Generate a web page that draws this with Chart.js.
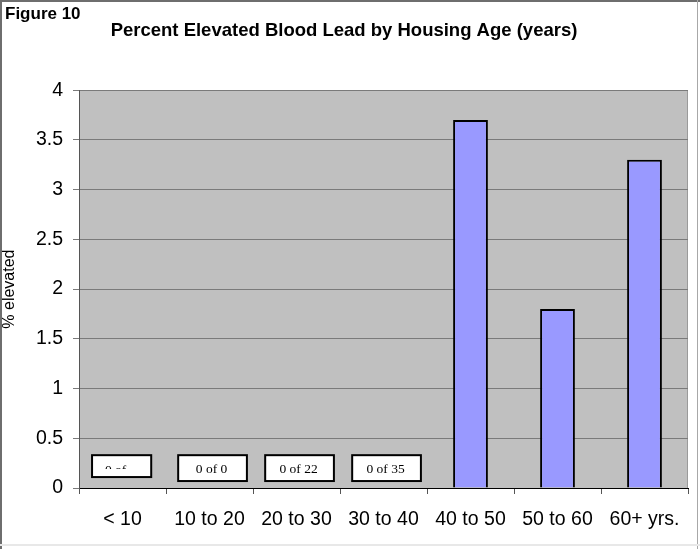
<!DOCTYPE html>
<html>
<head>
<meta charset="utf-8">
<script src="https://cdn.jsdelivr.net/npm/chart.js@4.4.0/dist/chart.umd.min.js"></script>
<style>
html,body{margin:0;padding:0;background:#fff;}
#wrap{width:700px;height:549px;position:relative;}
</style>
</head>
<body>
<div id="wrap"><canvas id="c" width="700" height="549"></canvas></div>
<script>
const categories = ["< 10", "10 to 20", "20 to 30", "30 to 40", "40 to 50", "50 to 60", "60+ yrs."];
const percentElevated = [0, 0, 0, 0, 3.7, 1.8, 3.3];
const boxLabels = ["0 of", "0 of 0", "0 of 22", "0 of 35"];
const yTicks = [0, 0.5, 1, 1.5, 2, 2.5, 3, 3.5, 4];

const SANS = "'Liberation Sans', Arial, sans-serif";
const SERIF = "'Liberation Serif', 'Times New Roman', serif";

const framePlugin = {
  id: 'frame',
  beforeDraw(chart) {
    const ctx = chart.ctx;
    const a = chart.chartArea;
    ctx.save();
    ctx.fillStyle = '#ffffff';
    ctx.fillRect(0, 0, chart.width, chart.height);
    // outer frame
    ctx.fillStyle = '#6e6e6e';
    ctx.fillRect(0, 0, chart.width, 2);
    ctx.fillRect(0, 0, 2, chart.height);
    ctx.fillStyle = '#a8a8a8';
    ctx.fillRect(chart.width - 3, 0, 1, chart.height);
    ctx.fillStyle = '#e8e8e8';
    ctx.fillRect(0, chart.height - 5, chart.width, 2);
    // plot background
    ctx.fillStyle = '#c0c0c0';
    ctx.fillRect(a.left, a.top, a.right - a.left, a.bottom - a.top);
    ctx.fillStyle = '#9a9a9a';
    ctx.fillRect(a.right - 1, a.top, 1, a.bottom - a.top);
    // figure label
    ctx.fillStyle = '#000';
    ctx.font = 'bold 17px ' + SANS;
    ctx.textBaseline = 'top';
    ctx.textAlign = 'left';
    ctx.fillText('Figure 10', 5, 6);
    ctx.restore();
  }
};

const boxPlugin = {
  id: 'countBoxes',
  afterDatasetsDraw(chart) {
    const ctx = chart.ctx;
    const xs = chart.scales.x, ys = chart.scales.y;
    const step = xs.getPixelForValue(1) - xs.getPixelForValue(0);
    ctx.save();
    boxLabels.forEach((lab, i) => {
      const cx = xs.getPixelForValue(i);
      let x0, x1, yTop, yBot;
      if (i === 0) {
        x0 = cx - 0.35 * step; x1 = cx + 0.33 * step;
        yTop = ys.getPixelForValue(0.33); yBot = ys.getPixelForValue(0.11);
      } else {
        x0 = cx - 0.36 * step; x1 = cx + 0.43 * step;
        yTop = ys.getPixelForValue(0.33); yBot = ys.getPixelForValue(0.07);
      }
      ctx.fillStyle = '#ffffff';
      ctx.fillRect(x0, yTop, x1 - x0, yBot - yTop);
      ctx.strokeStyle = '#000';
      ctx.lineWidth = 2;
      ctx.strokeRect(x0, yTop, x1 - x0, yBot - yTop);
      ctx.fillStyle = '#000';
      ctx.font = '13.5px ' + SERIF;
      ctx.textAlign = 'center';
      ctx.textBaseline = 'middle';
      if (i === 0) {
        ctx.save();
        ctx.beginPath();
        ctx.rect(x0, yTop, x1 - x0, ys.getPixelForValue(0.19) - yTop);
        ctx.clip();
        ctx.fillText(lab, (x0 + x1) / 2 - 6, ys.getPixelForValue(0.18));
        ctx.restore();
      } else {
        ctx.fillText(lab, (x0 + x1) / 2 - 1, (yTop + yBot) / 2 + 1);
      }
    });
    ctx.restore();
  }
};

new Chart(document.getElementById('c'), {
  type: 'bar',
  data: {
    labels: categories,
    datasets: [{
      data: percentElevated,
      backgroundColor: '#9999ff',
      borderColor: '#000000',
      borderWidth: 2,
      categoryPercentage: 1.0,
      barPercentage: 0.4
    }]
  },
  options: {
    responsive: false,
    animation: false,
    devicePixelRatio: 1,
    layout: { padding: { left: 0, right: 12, top: 0, bottom: 0 } },
    plugins: {
      legend: { display: false },
      tooltip: { enabled: false },
      title: {
        display: true,
        text: 'Percent Elevated Blood Lead by Housing Age (years)',
        color: '#000',
        font: { family: SANS, size: 18.5, weight: 'bold' },
        padding: { top: 20, bottom: 48 }
      }
    },
    scales: {
      x: {
        grid: { display: true, drawOnChartArea: false, offset: true, color: '#555', tickLength: 6, tickColor: '#555' },
        border: { display: true, color: '#000', width: 1 },
        ticks: { color: '#000', font: { family: SANS, size: 19.5 }, padding: 14, maxRotation: 0, autoSkip: false },
        afterFit(s) { s.height = 61; }
      },
      y: {
        min: 0, max: 4,
        afterBuildTicks(s) { s.ticks = yTicks.map(v => ({ value: v })); },
        grid: { color: '#7a7a7a', tickLength: 6, tickColor: '#7a7a7a' },
        border: { display: true, color: '#555', width: 1 },
        ticks: { color: '#000', font: { family: SANS, size: 19.5 }, padding: 10, callback: v => String(v) },
        title: { display: true, text: '% elevated', color: '#000', font: { family: SANS, size: 16 }, padding: { top: 0, bottom: 0 } },
        afterFit(s) { s.width = 79; }
      }
    }
  },
  plugins: [framePlugin, boxPlugin]
});
</script>
</body>
</html>
